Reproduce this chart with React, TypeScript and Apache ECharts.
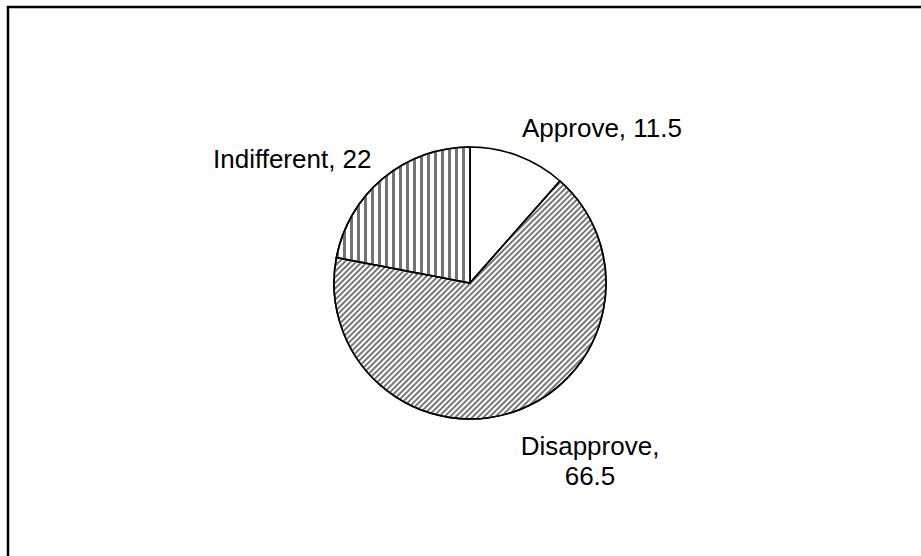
import React, { useEffect, useRef } from "react";
import * as echarts from "echarts";

// Survey responses (percent)
const categories = ["Approve", "Disapprove", "Indifferent"];
const shares = [11.5, 66.5, 22];

// Label anchors for each slice
const labelAnchors = [
  { x: 522, y: 128, align: "left" },
  { x: 590, y: 461, align: "center" },
  { x: 213, y: 158.5, align: "left" },
];

const solidWhite = { color: "#ffffff" };
const diagonalHatch = {
  color: "#ffffff",
  decal: {
    symbol: "rect",
    symbolSize: 1,
    symbolKeepAspect: false,
    color: "#777777",
    dashArrayX: [2, 2],
    dashArrayY: [10, 0],
    rotation: Math.PI / 4,
  },
};
const verticalHatch = {
  color: "#ffffff",
  decal: {
    symbol: "rect",
    symbolSize: 1,
    symbolKeepAspect: false,
    color: "#737373",
    dashArrayX: [3, 4],
    dashArrayY: [10, 0],
    rotation: 0,
  },
};
const sliceStyles = [solidWhite, diagonalHatch, verticalHatch];

export default function App() {
  const ref = useRef<HTMLDivElement>(null);

  useEffect(() => {
    document.body.style.margin = "0";
    const chart = echarts.init(ref.current!, null, { renderer: "svg" });
    chart.setOption({
      animation: false,
      backgroundColor: "#ffffff",
      graphic: [
        {
          type: "rect",
          shape: { x: 8, y: 7, width: 1200, height: 1200 },
          style: { fill: "none", stroke: "#000000", lineWidth: 2.5 },
          silent: true,
        },
      ],
      series: [
        {
          type: "pie",
          center: [470, 283],
          radius: 136,
          startAngle: 90,
          clockwise: true,
          avoidLabelOverlap: false,
          itemStyle: { borderColor: "#000000", borderWidth: 1.6 },
          label: {
            show: true,
            position: "outside",
            color: "#000000",
            fontFamily: "Liberation Sans, Arial, sans-serif",
            fontSize: 26,
            lineHeight: 30,
            formatter: (p: any) =>
              p.name === "Disapprove" ? `${p.name},\n${p.value}` : `${p.name}, ${p.value}`,
          },
          labelLine: { show: false },
          labelLayout: (params: any) => {
            const a = labelAnchors[params.dataIndex];
            return { x: a.x, y: a.y, align: a.align, verticalAlign: "middle" };
          },
          emphasis: { disabled: true },
          data: categories.map((name, i) => ({
            name,
            value: shares[i],
            itemStyle: sliceStyles[i],
          })),
        },
      ],
    });
    return () => chart.dispose();
  }, []);

  return <div ref={ref} style={{ width: 921, height: 556 }} />;
}
